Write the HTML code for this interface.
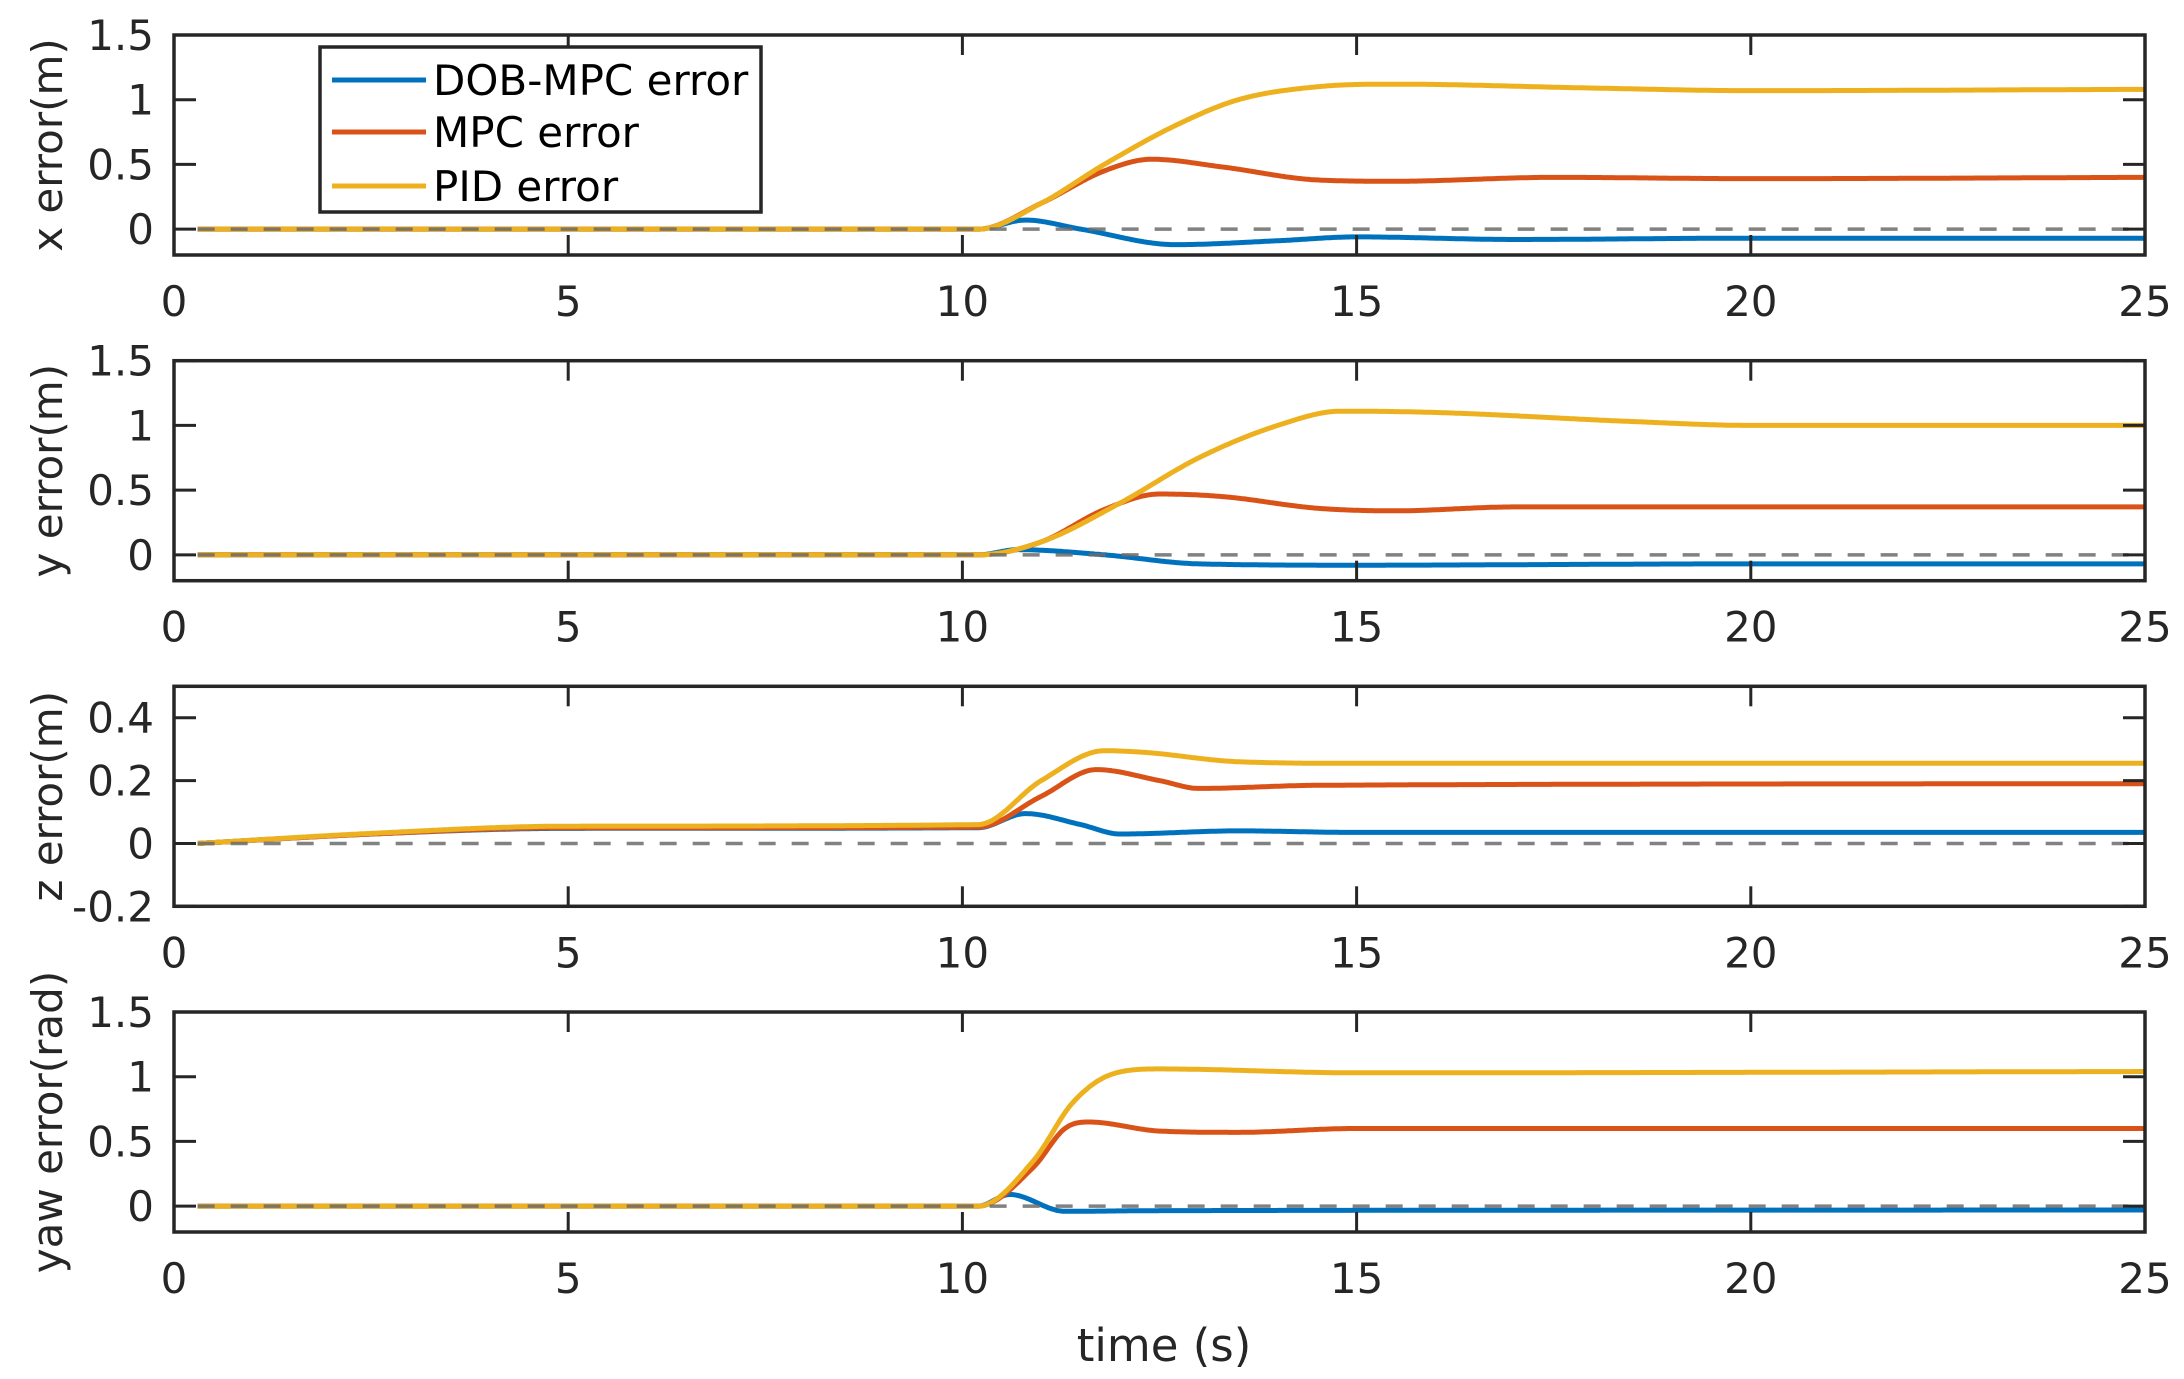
<!DOCTYPE html>
<html><head><meta charset="utf-8"><style>
html,body{margin:0;padding:0;background:#fff;}
svg{display:block;font-family:"DejaVu Sans","Liberation Sans",sans-serif;}
</style></head><body>
<svg id="chart" width="2184" height="1379" viewBox="0 0 2184 1379" xmlns="http://www.w3.org/2000/svg"></svg>
<script>
// ---- data ----
const xTicks = [0, 5, 10, 15, 20, 25];
const panelTitles = ["x error(m)", "y error(m)", "z error(m)", "yaw error(rad)"];
const yTicks1 = [0, 0.5, 1, 1.5];
const yTicks3 = [-0.2, 0, 0.2, 0.4];
const yLabels1 = ["0", "0.5", "1", "1.5"];
const yLabels3 = ["-0.2", "0", "0.2", "0.4"];
const seriesNames = ["DOB-MPC error", "MPC error", "PID error"];

const tX_dob = [0.3, 10.2, 10.8, 11.5, 12.7, 14, 15, 17, 20, 25];
const vX_dob = [0, 0, 0.07, 0.0, -0.12, -0.09, -0.06, -0.08, -0.07, -0.07];
const tX_mpc = [0.3, 10.2, 11, 11.8, 12.4, 13.3, 14.5, 15.5, 17.5, 20, 25];
const vX_mpc = [0, 0, 0.2, 0.45, 0.54, 0.48, 0.38, 0.37, 0.4, 0.39, 0.4];
const tX_pid = [0.3, 10.2, 11, 11.8, 12.7, 13.5, 14.5, 15.5, 18, 20, 25];
const vX_pid = [0, 0, 0.2, 0.5, 0.8, 1.0, 1.1, 1.12, 1.09, 1.07, 1.08];

const tY_dob = [0.3, 10.2, 10.7, 11.8, 13, 15, 20, 25];
const vY_dob = [0, 0, 0.04, 0.0, -0.07, -0.08, -0.07, -0.07];
const tY_mpc = [0.3, 10.2, 11, 11.8, 12.5, 13.3, 14.5, 15.5, 17, 20, 25];
const vY_mpc = [0, 0, 0.1, 0.35, 0.47, 0.45, 0.36, 0.34, 0.37, 0.37, 0.37];
const tY_pid = [0.3, 10.2, 11, 12, 13, 14, 14.8, 16, 18.5, 20, 25];
const vY_pid = [0, 0, 0.1, 0.4, 0.75, 1.0, 1.11, 1.1, 1.03, 1.0, 1.0];

const tZ_dob = [0.3, 2.5, 5, 10.2, 10.8, 11.5, 12, 13.5, 15, 25];
const vZ_dob = [0, 0.03, 0.048, 0.05, 0.095, 0.06, 0.03, 0.04, 0.035, 0.035];
const tZ_mpc = [0.3, 2.5, 5, 10.2, 11, 11.7, 12.5, 13, 14.5, 25];
const vZ_mpc = [0, 0.03, 0.05, 0.052, 0.15, 0.235, 0.2, 0.175, 0.185, 0.19];
const tZ_pid = [0.3, 2.5, 5, 10.2, 11, 11.8, 12.3, 13.5, 15, 25];
const vZ_pid = [0, 0.032, 0.055, 0.06, 0.2, 0.295, 0.29, 0.26, 0.255, 0.255];

const tW_dob = [0.3, 10.2, 10.6, 11.3, 12.5, 25];
const vW_dob = [0, 0, 0.09, -0.04, -0.035, -0.03];
const tW_mpc = [0.3, 10.2, 10.9, 11.3, 11.6, 12.5, 13.5, 15, 25];
const vW_mpc = [0, 0, 0.3, 0.6, 0.65, 0.58, 0.57, 0.6, 0.6];
const tW_pid = [0.3, 10.2, 10.9, 11.4, 11.9, 12.5, 15, 25];
const vW_pid = [0, 0, 0.35, 0.8, 1.02, 1.06, 1.03, 1.04];

// ---- layout ----
const NS = "http://www.w3.org/2000/svg";
const svg = document.getElementById("chart");
const colors = ["#0072BD", "#D95319", "#EDB120"];
const L = 174, R = 2145, H = 220;
const tops = [35, 360.7, 686.3, 1012];
const ylims = [[-0.2, 1.5], [-0.2, 1.5], [-0.2, 0.5], [-0.2, 1.5]];
const panels = [
  [[tX_dob, vX_dob], [tX_mpc, vX_mpc], [tX_pid, vX_pid]],
  [[tY_dob, vY_dob], [tY_mpc, vY_mpc], [tY_pid, vY_pid]],
  [[tZ_dob, vZ_dob], [tZ_mpc, vZ_mpc], [tZ_pid, vZ_pid]],
  [[tW_dob, vW_dob], [tW_mpc, vW_mpc], [tW_pid, vW_pid]]
];
function mk(tag, attrs, parent) {
  const e = document.createElementNS(NS, tag);
  for (const k in attrs) e.setAttribute(k, attrs[k]);
  (parent || svg).appendChild(e);
  return e;
}
function xs(t) { return L + (t / 25) * (R - L); }
function monoInterp(T, V) {
  const n = T.length, d = [], m = new Array(n).fill(0);
  for (let i = 0; i < n - 1; i++) d.push((V[i + 1] - V[i]) / (T[i + 1] - T[i]));
  m[0] = d[0]; m[n - 1] = d[n - 2];
  for (let i = 1; i < n - 1; i++) m[i] = (d[i - 1] * d[i] <= 0) ? 0 : (d[i - 1] + d[i]) / 2;
  for (let i = 0; i < n - 1; i++) {
    if (d[i] === 0) { m[i] = 0; m[i + 1] = 0; continue; }
    const a = m[i] / d[i], b = m[i + 1] / d[i], s = a * a + b * b;
    if (s > 9) { const tt = 3 / Math.sqrt(s); m[i] = tt * a * d[i]; m[i + 1] = tt * b * d[i]; }
  }
  return function (t) {
    let i = 0;
    while (i < n - 2 && t > T[i + 1]) i++;
    const h = T[i + 1] - T[i], u = (t - T[i]) / h;
    const h00 = 2 * u * u * u - 3 * u * u + 1, h10 = u * u * u - 2 * u * u + u;
    const h01 = -2 * u * u * u + 3 * u * u, h11 = u * u * u - u * u;
    return h00 * V[i] + h10 * h * m[i] + h01 * V[i + 1] + h11 * h * m[i + 1];
  };
}
function curvePath(T, V, ys) {
  const f = monoInterp(T, V);
  const t0 = T[0], t1 = T[T.length - 1];
  let d = "";
  for (let t = t0; t <= t1 + 1e-9; t += 0.02) {
    d += (d ? " L" : "M") + xs(t).toFixed(1) + "," + ys(f(t)).toFixed(1);
  }
  return d;
}

panels.forEach((series, p) => {
  const top = tops[p], bot = top + H;
  const [y0, y1] = ylims[p];
  const ys = v => bot - (v - y0) / (y1 - y0) * H;
  const g = mk("g", {});
  
  
  const clipId = "clip" + p;
  const cp = mk("clipPath", { id: clipId }, g);
  mk("rect", { x: L, y: top, width: R - L, height: H }, cp);
  series.forEach((s, k) => {
    const path = mk("path", { d: curvePath(s[0], s[1], ys), fill: "none", stroke: colors[k], "stroke-width": 5, "stroke-linejoin": "round", "clip-path": "url(#" + clipId + ")" }, g);
    
    
  });
  const zl = mk("line", { x1: xs(0.3), x2: R, y1: ys(0), y2: ys(0), stroke: "#6b6b6b", "stroke-opacity": 0.85, "stroke-width": 3.5, "stroke-dasharray": "17,16" }, g);
  
  
  const box = mk("rect", { x: L, y: top, width: R - L, height: H, fill: "none", stroke: "#262626", "stroke-width": 3.5 }, g);
  
  
  xTicks.forEach(t => {
    const x = xs(t);
    mk("line", { x1: x, x2: x, y1: bot, y2: bot - 20, stroke: "#262626", "stroke-width": 3 }, g);
    mk("line", { x1: x, x2: x, y1: top, y2: top + 20, stroke: "#262626", "stroke-width": 3 }, g);
    const tx = mk("text", { x: x, y: bot + 61, "text-anchor": "middle", "font-size": 42, fill: "#262626" }, g);
    tx.textContent = String(t);
    
    
  });
  const yt = p === 2 ? yTicks3 : yTicks1;
  const yl = p === 2 ? yLabels3 : yLabels1;
  yt.forEach((v, i) => {
    const y = ys(v);
    mk("line", { x1: L, x2: L + 22, y1: y, y2: y, stroke: "#262626", "stroke-width": 3 }, g);
    mk("line", { x1: R, x2: R - 22, y1: y, y2: y, stroke: "#262626", "stroke-width": 3 }, g);
    const tx = mk("text", { x: 154, y: y + 15, "text-anchor": "end", "font-size": 42, fill: "#262626" }, g);
    tx.textContent = yl[i];
    
    
  });
  const cy = top + H / 2;
  const tt = mk("text", { x: 0, y: 0, transform: "translate(62," + cy + ") rotate(-90)", "text-anchor": "middle", "font-size": 42, fill: "#262626" }, g);
  tt.textContent = panelTitles[p];
  
  
});

const xt = mk("text", { x: 1164, y: 1361, "text-anchor": "middle", "font-size": 45, fill: "#262626" });
xt.textContent = "time (s)";



const lg = mk("g", {});


mk("rect", { x: 320, y: 47, width: 441, height: 165, fill: "#fff", stroke: "#262626", "stroke-width": 3.5 }, lg);
const legY = [80, 132, 186];
seriesNames.forEach((n, k) => {
  const e = mk("g", {}, lg);
  
  
  mk("line", { x1: 332, x2: 426, y1: legY[k], y2: legY[k], stroke: colors[k], "stroke-width": 5 }, e);
  const t = mk("text", { x: 433, y: legY[k] + 15, "font-size": 42, fill: "#000" }, e);
  t.textContent = n;
});
</script>
</body></html>
